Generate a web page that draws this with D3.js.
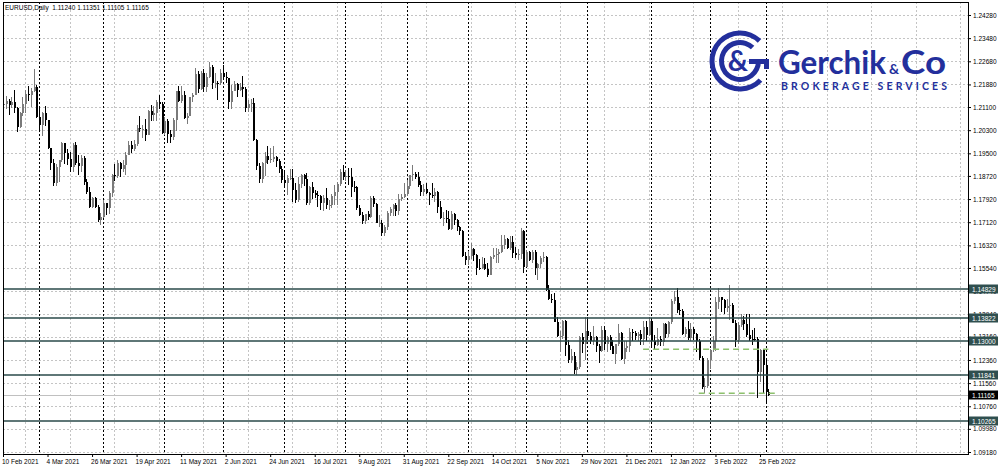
<!DOCTYPE html>
<html><head><meta charset="utf-8">
<script src="https://cdn.jsdelivr.net/npm/d3@7"></script>
<style>body{margin:0;background:#fff}svg{display:block}</style>
</head><body>
<svg id="c" width="1000" height="468"></svg>
<script>
// EURUSD Daily, bar 0 = 10 Feb 2021 ... bar 275 = 2 Mar 2022
const open=[1.2117,1.2120,1.2132,1.2118,1.2127,1.2105,1.2041,1.2090,1.2120,1.2155,1.2150,1.2167,1.2178,
1.2075,1.2048,1.2090,1.2064,1.1968,1.1915,1.1847,1.1902,1.1927,1.1985,1.1950,1.1930,1.1902,1.1980,1.1915,1.1906,1.1934,1.1850,1.1815,1.1765,1.1795,1.1764,1.1720,
1.1730,1.1778,1.1760,1.1813,1.1874,1.1870,1.1915,1.1897,1.1911,1.1945,1.1978,1.1966,1.1983,1.2036,1.2033,1.2035,1.2015,1.2097,1.2083,1.2089,1.2128,1.2120,
1.2020,1.2062,1.2016,1.2005,1.2065,1.2164,1.2132,1.2152,1.2073,1.2080,1.2143,1.2153,1.2224,1.2172,1.2229,1.2180,1.2215,1.2250,1.2193,1.2194,1.2193,
1.2227,1.2213,1.2210,1.2126,1.2167,1.2191,1.2170,1.2179,1.2172,1.2107,1.2120,1.2124,1.1996,1.1905,1.1860,1.1915,1.1941,1.1926,1.1930,1.1937,1.1925,1.1896,
1.1857,1.1846,1.1865,1.1866,1.1822,1.1790,1.1845,1.1875,1.1862,1.1778,1.1835,1.1813,1.1806,1.1801,1.1779,1.1794,1.1770,1.1771,1.1801,1.1818,1.1843,1.1887,
1.1869,1.1870,1.1868,1.1835,1.1833,1.1761,1.1736,1.1716,1.1739,1.1731,1.1796,1.1776,1.1711,1.1711,1.1675,1.1697,1.1745,1.1757,1.1771,1.1751,1.1793,1.1800,
1.1808,1.1837,1.1874,1.1880,1.1869,1.1840,1.1818,1.1827,1.1813,1.1805,1.1804,1.1818,1.1765,1.1725,1.1728,1.1724,1.1688,1.1740,1.1720,1.1694,1.1681,1.1596,
1.1580,1.1596,1.1621,1.1598,1.1554,1.1553,1.1569,1.1552,1.1529,1.1593,1.1597,1.1602,1.1610,1.1633,1.1653,1.1623,1.1644,1.1605,1.1598,1.1602,1.1682,
1.1558,1.1608,1.1580,1.1610,1.1555,1.1567,1.1588,1.1592,1.1479,1.1448,1.1444,1.1368,1.1320,1.1320,1.1370,1.1288,1.1236,1.1249,1.1200,1.1210,1.1316,1.1290,
1.1337,1.1320,1.1302,1.1315,1.1285,1.1267,1.1341,1.1290,1.1315,1.1283,1.1258,1.1291,1.1330,1.1239,1.1279,1.1283,1.1333,1.1330,1.1320,1.1327,1.1310,1.1350,1.1323,
1.1370,1.1300,1.1289,1.1310,1.1297,1.1360,1.1325,1.1366,1.1440,1.1454,1.1410,1.1404,1.1325,1.1343,1.1313,1.1343,1.1325,1.1300,1.1243,1.1143,1.1146,
1.1236,1.1271,1.1302,1.1437,1.1452,1.1442,1.1417,1.1422,1.1425,1.1365,1.1305,1.1356,1.1375,1.1362,1.1321,1.1310,1.1308,1.1307,1.1193,1.1270,
1.1220,1.11240];
const high=[1.2150,1.2149,1.2137,1.2145,1.2169,1.2111,1.2093,1.2145,1.2169,1.2182,1.2175,1.2243,1.2185,
1.2113,1.2093,1.2114,1.2066,1.1970,1.1932,1.1914,1.1927,1.1990,1.1987,1.1965,1.1953,1.1987,1.1990,1.1943,1.1943,1.1941,1.1860,1.1835,1.1800,1.1798,1.1770,1.1744,
1.1788,1.1779,1.1820,1.1877,1.1914,1.1927,1.1920,1.1927,1.1956,1.1991,1.1994,1.1995,1.2048,1.2079,1.2048,1.2068,1.2100,1.2117,1.2114,1.2135,1.2150,1.2128,
1.2075,1.2069,1.2030,1.2071,1.2167,1.2182,1.2181,1.2165,1.2091,1.2146,1.2160,1.2245,1.2233,1.2236,1.2243,1.2226,1.2266,1.2255,1.2228,1.2201,1.2241,
1.2254,1.2232,1.2212,1.2185,1.2199,1.2194,1.2193,1.2218,1.2178,1.2135,1.2138,1.2140,1.2000,1.1918,1.1920,1.1954,1.1975,1.1967,1.1975,1.1940,1.1932,1.1905,
1.1885,1.1876,1.1895,1.1895,1.1848,1.1868,1.1880,1.1880,1.1881,1.1838,1.1850,1.1823,1.1821,1.1806,1.1807,1.1829,1.1790,1.1808,1.1840,1.1850,1.1896,1.1909,
1.1892,1.1899,1.1900,1.1853,1.1837,1.1770,1.1749,1.1740,1.1752,1.1804,1.1803,1.1779,1.1738,1.1720,1.1703,1.1752,1.1763,1.1774,1.1780,1.1810,1.1811,1.1846,
1.1857,1.1874,1.1909,1.1885,1.1886,1.1853,1.1844,1.1849,1.1815,1.1846,1.1830,1.1821,1.1787,1.1749,1.1754,1.1751,1.1752,1.1744,1.1722,1.1700,1.1686,1.1608,
1.1613,1.1640,1.1623,1.1602,1.1584,1.1593,1.1590,1.1570,1.1594,1.1624,1.1623,1.1621,1.1669,1.1668,1.1659,1.1665,1.1665,1.1625,1.1619,1.1692,1.1685,
1.1617,1.1614,1.1617,1.1615,1.1570,1.1596,1.1608,1.1594,1.1494,1.1464,1.1466,1.1385,1.1337,1.1374,1.1374,1.1304,1.1275,1.1262,1.1228,1.1319,1.1329,1.1384,
1.1383,1.1334,1.1353,1.1319,1.1291,1.1355,1.1353,1.1320,1.1323,1.1305,1.1292,1.1360,1.1333,1.1303,1.1302,1.1346,1.1343,1.1335,1.1334,1.1339,1.1369,1.1369,1.1386,
1.1376,1.1324,1.1346,1.1318,1.1364,1.1363,1.1371,1.1445,1.1474,1.1483,1.1434,1.1412,1.1351,1.1369,1.1363,1.1349,1.1329,1.1309,1.1248,1.1174,1.1242,
1.1273,1.1319,1.1452,1.1483,1.1454,1.1448,1.1448,1.1495,1.1434,1.1375,1.1368,1.1395,1.1388,1.1395,1.1395,1.1340,1.1347,1.1315,1.1274,1.1273,
1.1236,1.11351];
const low=[1.2107,1.2102,1.2082,1.2107,1.2090,1.2023,1.2039,1.2078,1.2091,1.2132,1.2110,1.2162,1.2072,
1.2022,1.2010,1.2046,1.1966,1.1894,1.1836,1.1836,1.1850,1.1920,1.1912,1.1910,1.1886,1.1884,1.1910,1.1874,1.1886,1.1842,1.1810,1.1762,1.1760,1.1762,1.1712,1.1704,
1.1727,1.1738,1.1740,1.1800,1.1853,1.1864,1.1867,1.1886,1.1874,1.1944,1.1950,1.1957,1.1976,1.2024,1.2003,1.1994,1.2014,1.2061,1.2063,1.2060,1.2102,1.2018,
1.2014,1.1986,1.1985,1.1995,1.2027,1.2128,1.2123,1.2070,1.2051,1.2078,1.2127,1.2151,1.2160,1.2170,1.2162,1.2163,1.2212,1.2174,1.2176,1.2133,1.2187,
1.2205,1.2194,1.2103,1.2104,1.2164,1.2144,1.2167,1.2144,1.2093,1.2092,1.2093,1.1994,1.1893,1.1847,1.1848,1.1870,1.1914,1.1916,1.1921,1.1904,1.1882,1.1847,
1.1836,1.1807,1.1857,1.1782,1.1780,1.1782,1.1830,1.1838,1.1772,1.1773,1.1792,1.1797,1.1766,1.1753,1.1752,1.1757,1.1755,1.1760,1.1772,1.1770,1.1838,1.1859,
1.1856,1.1842,1.1800,1.1818,1.1754,1.1735,1.1706,1.1705,1.1718,1.1725,1.1765,1.1708,1.1695,1.1666,1.1664,1.1686,1.1735,1.1734,1.1735,1.1737,1.1784,1.1796,
1.1803,1.1828,1.1856,1.1862,1.1834,1.1802,1.1804,1.1810,1.1770,1.1797,1.1782,1.1745,1.1722,1.1700,1.1710,1.1684,1.1686,1.1701,1.1680,1.1668,1.1592,1.1563,
1.1563,1.1586,1.1578,1.1529,1.1548,1.1551,1.1548,1.1524,1.1528,1.1586,1.1571,1.1571,1.1606,1.1618,1.1620,1.1617,1.1590,1.1590,1.1582,1.1585,1.1535,
1.1557,1.1578,1.1572,1.1530,1.1513,1.1554,1.1575,1.1473,1.1443,1.1432,1.1366,1.1315,1.1263,1.1307,1.1250,1.1226,1.1226,1.1186,1.1185,1.1206,1.1260,1.1235,
1.1307,1.1292,1.1288,1.1262,1.1227,1.1263,1.1269,1.1265,1.1272,1.1255,1.1222,1.1285,1.1236,1.1222,1.1262,1.1262,1.1303,1.1305,1.1300,1.1289,1.1289,1.1301,1.1318,
1.1280,1.1272,1.1284,1.1285,1.1286,1.1313,1.1316,1.1360,1.1431,1.1397,1.1392,1.1321,1.1315,1.1306,1.1302,1.1304,1.1263,1.1235,1.1135,1.1121,1.1140,
1.1204,1.1264,1.1268,1.1412,1.1401,1.1395,1.1401,1.1374,1.1364,1.1280,1.1292,1.1350,1.1338,1.1314,1.1300,1.1288,1.1300,1.1106,1.1160,1.1121,
1.1092,1.11105];
const close=[1.2120,1.2132,1.2118,1.2127,1.2105,1.2041,1.2090,1.2120,1.2155,1.2150,1.2167,1.2178,1.2075,
1.2048,1.2090,1.2064,1.1968,1.1915,1.1847,1.1902,1.1927,1.1985,1.1950,1.1930,1.1902,1.1980,1.1915,1.1906,1.1934,1.1850,1.1815,1.1765,1.1795,1.1764,1.1720,1.1730,
1.1778,1.1760,1.1813,1.1874,1.1870,1.1915,1.1897,1.1911,1.1945,1.1978,1.1966,1.1983,1.2036,1.2033,1.2035,1.2015,1.2097,1.2083,1.2089,1.2128,1.2120,1.2020,
1.2062,1.2016,1.2005,1.2065,1.2164,1.2132,1.2152,1.2073,1.2080,1.2143,1.2153,1.2224,1.2172,1.2229,1.2180,1.2215,1.2250,1.2193,1.2194,1.2193,1.2227,
1.2213,1.2210,1.2126,1.2167,1.2191,1.2170,1.2179,1.2172,1.2107,1.2120,1.2124,1.1996,1.1905,1.1860,1.1915,1.1941,1.1926,1.1930,1.1937,1.1925,1.1896,1.1857,
1.1846,1.1865,1.1866,1.1822,1.1790,1.1845,1.1875,1.1862,1.1778,1.1835,1.1813,1.1806,1.1801,1.1779,1.1794,1.1770,1.1771,1.1801,1.1818,1.1843,1.1887,1.1869,
1.1870,1.1868,1.1835,1.1833,1.1761,1.1736,1.1716,1.1739,1.1731,1.1796,1.1776,1.1711,1.1711,1.1675,1.1697,1.1745,1.1757,1.1771,1.1751,1.1793,1.1800,1.1808,
1.1837,1.1874,1.1880,1.1869,1.1840,1.1818,1.1827,1.1813,1.1805,1.1804,1.1818,1.1765,1.1725,1.1728,1.1724,1.1688,1.1740,1.1720,1.1694,1.1681,1.1596,1.1580,
1.1596,1.1621,1.1598,1.1554,1.1553,1.1569,1.1552,1.1529,1.1593,1.1597,1.1602,1.1610,1.1633,1.1653,1.1623,1.1644,1.1605,1.1598,1.1602,1.1682,1.1558,
1.1608,1.1580,1.1610,1.1555,1.1567,1.1588,1.1592,1.1479,1.1448,1.1444,1.1368,1.1320,1.1320,1.1370,1.1288,1.1236,1.1249,1.1200,1.1210,1.1316,1.1290,1.1337,
1.1320,1.1302,1.1315,1.1285,1.1267,1.1341,1.1290,1.1315,1.1283,1.1258,1.1291,1.1330,1.1239,1.1279,1.1283,1.1333,1.1330,1.1320,1.1327,1.1310,1.1350,1.1323,1.1370,
1.1300,1.1289,1.1310,1.1297,1.1360,1.1325,1.1366,1.1440,1.1454,1.1410,1.1404,1.1325,1.1343,1.1313,1.1343,1.1325,1.1300,1.1243,1.1143,1.1146,1.1236,
1.1271,1.1302,1.1437,1.1452,1.1442,1.1417,1.1422,1.1425,1.1365,1.1305,1.1356,1.1375,1.1362,1.1321,1.1310,1.1308,1.1307,1.1193,1.1270,1.1220,
1.1124,1.11165];

const priceTicks=[1.24280,1.23480,1.22680,1.21880,1.21100,1.20300,1.19500,1.18720,1.17920,1.17120,1.16320,1.15540,1.14740,1.13940,1.13160,1.12360,1.11560,1.10760,1.09980,1.09180];
const dateTickIndex=[0,16,32,48,64,80,96,112,128,144,160,176,192,208,224,240,256,272];
const dateTickLabels=["10 Feb 2021","4 Mar 2021","26 Mar 2021","19 Apr 2021","11 May 2021","2 Jun 2021","24 Jun 2021","16 Jul 2021","9 Aug 2021","31 Aug 2021","22 Sep 2021","14 Oct 2021","5 Nov 2021","29 Nov 2021","21 Dec 2021","12 Jan 2022","3 Feb 2022","25 Feb 2022"];
const monthSeparatorIndex=[13,36,58,79,101,123,145,167,188,210,233,254,274];
const gridIndex=[8,24,40,56,72,88,104,120,136,152,168,184,200,216,232,248,264,280,296,312,328,344];
const levelPrices=[1.14829,1.13822,1.13000,1.11841,1.10265];
const currentPrice=1.11165;
const dashPrices=[1.12728,1.11208];
const dashFrom=[230,250];
const dashTo=[275,278.5];
const headerText="EURUSD,Daily  1.11240 1.11351 1.11105 1.11165";

const FONT="'Liberation Sans', Arial, sans-serif";
const svg=d3.select("#c");
svg.append("rect").attr("width",1000).attr("height",468).attr("fill","#fff");

const x=d3.scaleLinear().domain([0,346.74]).range([3,968]);
const y=d3.scaleLinear().domain([1.09111,1.24729]).range([454,2]);
const X=i=>Math.round(x(i));
const Y=p=>Math.round(y(p))+0.5;

// grid
const grid=svg.append("g").attr("shape-rendering","crispEdges");
grid.selectAll("line.h").data(priceTicks).join("line").attr("class","h")
  .attr("x1",3).attr("x2",968).attr("y1",Y).attr("y2",Y)
  .attr("stroke","#c4c4c4").attr("stroke-dasharray","2,2");
grid.selectAll("line.v").data(gridIndex).join("line").attr("class","v")
  .attr("x1",i=>X(i)+0.5).attr("x2",i=>X(i)+0.5).attr("y1",2).attr("y2",454)
  .attr("stroke","#c4c4c4").attr("stroke-dasharray","2,2");
grid.selectAll("line.s").data(monthSeparatorIndex).join("line").attr("class","s")
  .attr("x1",i=>X(i)+0.5).attr("x2",i=>X(i)+0.5).attr("y1",2).attr("y2",454)
  .attr("stroke","#000").attr("stroke-dasharray","2,2");

// logo
const logoColor="#232f9c";
const logo=svg.append("g");
const cx=740, cy=61;
logo.append("path").attr("transform",`translate(${cx},${cy})`)
  .attr("d",d3.arc()({innerRadius:25.5,outerRadius:30.5,startAngle:Math.PI/2+0.75,endAngle:Math.PI*2+Math.PI/2-0.8}))
  .attr("fill",logoColor);
logo.append("path").attr("transform",`translate(${cx},${cy})`)
  .attr("d",d3.arc()({innerRadius:16,outerRadius:21,startAngle:Math.PI/2,endAngle:Math.PI*2+0.75}))
  .attr("fill",logoColor);
logo.append("rect").attr("x",cx+9).attr("y",cy-2).attr("width",20).attr("height",5).attr("fill",logoColor);
logo.append("rect").attr("x",cx+24).attr("y",cy-2).attr("width",5).attr("height",10).attr("fill",logoColor);
logo.append("text").attr("x",cx-2).attr("y",cy+10).attr("text-anchor","middle")
  .attr("font-family","Lato, 'Open Sans', sans-serif").attr("font-weight",700).attr("font-size",28)
  .attr("fill",logoColor).text("&");
logo.append("text").attr("x",778).attr("y",74).attr("font-family","Lato, 'Open Sans', sans-serif")
  .attr("font-weight",700).attr("font-size",33).attr("fill",logoColor)
  .attr("textLength",108).attr("lengthAdjust","spacingAndGlyphs").text("Gerchik");
logo.append("text").attr("x",889).attr("y",74).attr("font-family","Lato, 'Open Sans', sans-serif")
  .attr("font-weight",700).attr("font-size",14).attr("fill",logoColor).text("&");
logo.append("text").attr("x",901).attr("y",74).attr("font-family","Lato, 'Open Sans', sans-serif")
  .attr("font-weight",700).attr("font-size",33).attr("fill",logoColor)
  .attr("textLength",45).attr("lengthAdjust","spacingAndGlyphs").text("Co");
logo.append("text").attr("x",781).attr("y",89.5).attr("font-family","Lato, 'Open Sans', sans-serif")
  .attr("font-weight",700).attr("font-size",10.5).attr("fill",logoColor)
  .attr("textLength",166).attr("lengthAdjust","spacing").text("BROKERAGE SERVICES");

// current price (bid) line
svg.append("line").attr("x1",3).attr("x2",968).attr("y1",Y(currentPrice)).attr("y2",Y(currentPrice))
  .attr("stroke","#c0c0c0").attr("shape-rendering","crispEdges");

// candles
const bars=d3.range(close.length);
const up=i=>close[i]>=open[i];
const cg=svg.append("g").attr("shape-rendering","crispEdges");
cg.selectAll("line").data(bars).join("line")
  .attr("x1",i=>X(i)+0.5).attr("x2",i=>X(i)+0.5)
  .attr("y1",i=>y(high[i])).attr("y2",i=>y(low[i]))
  .attr("stroke",i=>up(i)?"#7a7a7a":"#000");
cg.selectAll("rect").data(bars).join("rect")
  .attr("x",i=>X(i)-0.5).attr("width",2)
  .attr("y",i=>y(Math.max(open[i],close[i])))
  .attr("height",i=>Math.max(1,Math.abs(y(open[i])-y(close[i]))))
  .attr("fill",i=>up(i)?"#7a7a7a":"#000");

// dashed green lines
svg.append("g").selectAll("line").data(dashPrices).join("line")
  .attr("x1",(p,k)=>x(dashFrom[k])).attr("x2",(p,k)=>x(dashTo[k]))
  .attr("y1",p=>y(p)).attr("y2",p=>y(p))
  .attr("stroke","#8cc06c").attr("stroke-width",1.6).attr("stroke-dasharray","6,4");

// horizontal levels
svg.append("g").selectAll("line").data(levelPrices).join("line")
  .attr("x1",3).attr("x2",968).attr("y1",p=>Math.round(y(p))).attr("y2",p=>Math.round(y(p)))
  .attr("stroke","#2a4a4a").attr("stroke-width",1.6);

// frame
svg.append("rect").attr("x",3.5).attr("y",2.5).attr("width",964.5).attr("height",451.5)
  .attr("fill","none").attr("stroke","#000").attr("shape-rendering","crispEdges");

// right axis
const ya=svg.append("g").attr("transform","translate(968,0)")
  .call(d3.axisRight(y).tickValues(priceTicks).tickFormat(d3.format(".5f")).tickSize(3).tickPadding(2));
ya.select(".domain").remove();
ya.selectAll("line").attr("stroke","#000");
ya.selectAll("text").attr("font-family",FONT).attr("font-size",6.5).attr("fill","#000");

// bottom axis
const xa=svg.append("g").attr("transform","translate(0,454)")
  .call(d3.axisBottom(x).tickValues(dateTickIndex).tickFormat((d,k)=>dateTickLabels[k]).tickSize(3).tickPadding(2));
xa.select(".domain").remove();
xa.selectAll("line").attr("stroke","#000");
xa.selectAll("text").attr("font-family",FONT).attr("font-size",6.5).attr("fill","#000")
  .attr("text-anchor","start").attr("dx",-1.5);

// level labels
const lg=svg.append("g");
lg.selectAll("rect").data(levelPrices).join("rect")
  .attr("x",969).attr("width",29).attr("y",p=>Y(p)-5).attr("height",9).attr("fill","#2f4f4f");
lg.selectAll("text").data(levelPrices).join("text")
  .attr("x",972).attr("y",p=>Y(p)+2.3).attr("font-family",FONT).attr("font-size",6.5)
  .attr("fill","#fff").text(d3.format(".5f"));
lg.append("rect").attr("x",969).attr("width",29).attr("y",Y(currentPrice)-5).attr("height",9).attr("fill","#000");
lg.append("text").attr("x",972).attr("y",Y(currentPrice)+2.3).attr("font-family",FONT).attr("font-size",6.5)
  .attr("fill","#fff").text(d3.format(".5f")(currentPrice));

// header
svg.append("text").attr("x",5).attr("y",9.5).attr("font-family",FONT).attr("font-size",6.5)
  .attr("fill","#000").attr("xml:space","preserve").style("white-space","pre").text(headerText);
</script>
</body></html>
